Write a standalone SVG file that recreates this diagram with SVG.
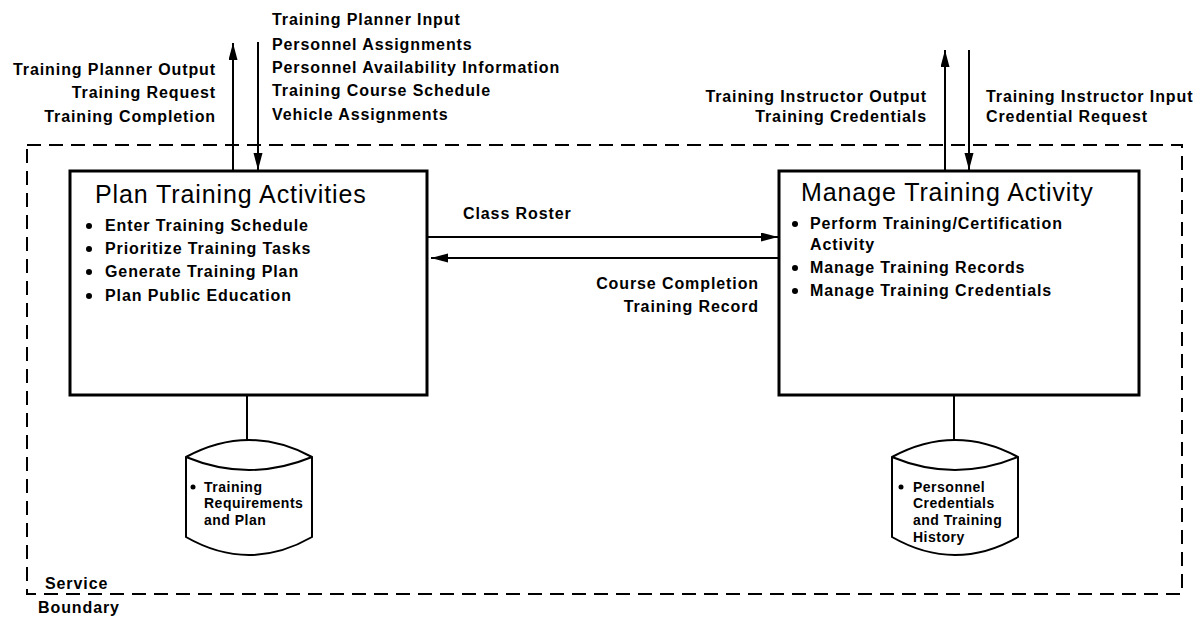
<svg xmlns="http://www.w3.org/2000/svg" width="1203" height="620" viewBox="0 0 1203 620">
<defs>
<marker id="ah" markerUnits="userSpaceOnUse" markerWidth="18" markerHeight="10" refX="17" refY="4.5" orient="auto">
<path d="M0,0 L17,4.5 L0,9 z" fill="#000"/>
</marker>
<style>
text{font-family:"Liberation Sans",Arial,sans-serif;fill:#000}
.lbl{font-size:16px;font-weight:bold;letter-spacing:0.9px}
.r{text-anchor:end}
.title{font-size:25px;letter-spacing:0.9px}
.bul{font-size:16px;font-weight:bold;letter-spacing:0.9px}
.cyl{font-size:14px;font-weight:bold;letter-spacing:0.5px}
.box{fill:#fff;stroke:#000;stroke-width:3}
.store{fill:#fff;stroke:#000;stroke-width:2}
.conn{stroke:#000;stroke-width:2;fill:none}
</style>
</defs>
<rect width="1203" height="620" fill="#fff"/>
<g id="boundary">
<rect x="27" y="145" width="1155" height="449" fill="none" stroke="#000" stroke-width="2" stroke-dasharray="14 8"/>
<text class="lbl" x="45" y="589">Service</text>
<text class="lbl" x="38" y="613">Boundary</text>
</g>
<g id="connectors">
<line class="conn" x1="233" y1="171" x2="233" y2="43" marker-end="url(#ah)"/>
<line class="conn" x1="258" y1="42" x2="258" y2="170" marker-end="url(#ah)"/>
<line class="conn" x1="945" y1="171" x2="945" y2="50" marker-end="url(#ah)"/>
<line class="conn" x1="969" y1="50" x2="969" y2="170" marker-end="url(#ah)"/>
<line class="conn" x1="428" y1="237" x2="778" y2="237" marker-end="url(#ah)"/>
<line class="conn" x1="778" y1="258" x2="431" y2="258" marker-end="url(#ah)"/>
<line class="conn" x1="247" y1="396" x2="247" y2="469"/>
<line class="conn" x1="954" y1="396" x2="954" y2="470"/>
<text class="lbl r" x="216" y="75">Training Planner Output</text>
<text class="lbl r" x="216" y="98">Training Request</text>
<text class="lbl r" x="216" y="122">Training Completion</text>
<text class="lbl" x="272" y="25">Training Planner Input</text>
<text class="lbl" x="272" y="50">Personnel Assignments</text>
<text class="lbl" x="272" y="73">Personnel Availability Information</text>
<text class="lbl" x="272" y="96">Training Course Schedule</text>
<text class="lbl" x="272" y="120">Vehicle Assignments</text>
<text class="lbl r" x="927" y="102">Training Instructor Output</text>
<text class="lbl r" x="927" y="122">Training Credentials</text>
<text class="lbl" x="986" y="102">Training Instructor Input</text>
<text class="lbl" x="986" y="122">Credential Request</text>
<text class="lbl" x="463" y="219">Class Roster</text>
<text class="lbl r" x="759" y="289">Course Completion</text>
<text class="lbl r" x="759" y="312">Training Record</text>
</g>
<g id="plan-training">
<rect class="box" x="70" y="171" width="357" height="224"/>
<text class="title" x="95" y="203">Plan Training Activities</text>
<circle cx="89" cy="226" r="3"/><text class="bul" x="105" y="231">Enter Training Schedule</text>
<circle cx="89" cy="249" r="3"/><text class="bul" x="105" y="254">Prioritize Training Tasks</text>
<circle cx="89" cy="272" r="3"/><text class="bul" x="105" y="277">Generate Training Plan</text>
<circle cx="89" cy="296" r="3"/><text class="bul" x="105" y="301">Plan Public Education</text>
</g>
<g id="manage-training">
<rect class="box" x="779" y="171" width="360" height="224"/>
<text class="title" x="801" y="201">Manage Training Activity</text>
<circle cx="795" cy="224" r="3"/><text class="bul" x="810" y="229">Perform Training/Certification</text>
<text class="bul" x="810" y="250">Activity</text>
<circle cx="795" cy="268" r="3"/><text class="bul" x="810" y="273">Manage Training Records</text>
<circle cx="795" cy="291" r="3"/><text class="bul" x="810" y="296">Manage Training Credentials</text>
</g>
<g id="store-requirements">
<path class="store" d="M186,457 Q249,423 312,457 L312,537 Q249,573 186,537 Z"/>
<path class="store" d="M186,457 Q249,483 312,457" fill="none"/>
<circle cx="193" cy="487" r="2.5"/>
<text class="cyl" x="204" y="492">Training</text>
<text class="cyl" x="204" y="508">Requirements</text>
<text class="cyl" x="204" y="525">and Plan</text>
</g>
<g id="store-credentials">
<path class="store" d="M892,457 Q955,423 1018,457 L1018,537 Q955,573 892,537 Z"/>
<path class="store" d="M892,457 Q955,483 1018,457" fill="none"/>
<circle cx="901" cy="487" r="2.5"/>
<text class="cyl" x="913" y="492">Personnel</text>
<text class="cyl" x="913" y="508">Credentials</text>
<text class="cyl" x="913" y="525">and Training</text>
<text class="cyl" x="913" y="542">History</text>
</g>
</svg>
